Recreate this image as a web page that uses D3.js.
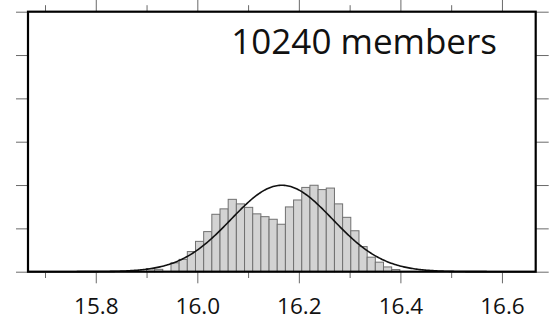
<!DOCTYPE html>
<html>
<head>
<meta charset="utf-8">
<script src="https://cdn.jsdelivr.net/npm/d3@7"></script>
<style>
html,body{margin:0;padding:0;background:#fff;}
svg{display:block;}
</style>
</head>
<body>
<svg id="chart" width="549" height="320"></svg>
<script>
// ---- data ----
const title = "10240 members";
const binStart = 15.8998;      // left edge of first bin
const binWidth = 0.0161;       // bin width
const densities = [0.14,0.11,0.0,0.41,0.57,0.93,1.40,1.85,2.65,2.90,3.34,3.13,2.97,2.67,2.54,2.42,2.19,
                   2.99,3.31,3.89,3.99,3.79,3.86,3.13,2.51,1.89,1.16,0.67,0.44,0.22,0.10];
const fitMean = 16.1665;
const fitSd = 0.1;
const xDomain = [15.6665, 16.6665];
const yDomain = [0, 12];
const xMajorTicks = [15.8, 16.0, 16.2, 16.4, 16.6];
const xMinorTicks = [15.7, 15.9, 16.1, 16.3, 16.5];
const yTicks = [0, 2, 4, 6, 8, 10, 12];

// ---- layout ----
const L = 28, R = 535.7, T = 11.7, B = 271.7;
const svg = d3.select("#chart");
const x = d3.scaleLinear().domain(xDomain).range([L, R]);
const y = d3.scaleLinear().domain(yDomain).range([B, T]);

const bins = densities.map((d, i) => ({x0: binStart + i * binWidth, x1: binStart + (i + 1) * binWidth, d}));

// bars
svg.append("g").selectAll("rect").data(bins.filter(b => b.d > 0)).join("rect")
  .attr("x", b => x(b.x0))
  .attr("y", b => y(b.d))
  .attr("width", b => x(b.x1) - x(b.x0))
  .attr("height", b => y(0) - y(b.d))
  .attr("fill", "#d3d3d3")
  .attr("stroke", "#707070")
  .attr("stroke-width", 1);

// normal curve
const pts = d3.range(0, 401).map(i => xDomain[0] + (xDomain[1] - xDomain[0]) * i / 400);
const pdf = v => Math.exp(-0.5 * ((v - fitMean) / fitSd) ** 2) / (fitSd * Math.sqrt(2 * Math.PI));
svg.append("path")
  .attr("d", d3.line().x(v => x(v)).y(v => y(pdf(v)))(pts))
  .attr("fill", "none")
  .attr("stroke", "#111")
  .attr("stroke-width", 1.6);

// axes (ticks outside frame)
const tickCol = "#6a6a6a";
function styleAxis(g) {
  g.select(".domain").remove();
  g.selectAll(".tick line").attr("stroke", tickCol);
}
const axB = d3.axisBottom(x).tickValues(xMajorTicks).tickSize(11.6).tickPadding(14.5)
  .tickFormat(d3.format(".1f"));
const gB = svg.append("g").attr("transform", `translate(0,${B})`).call(axB).call(styleAxis);
gB.selectAll(".tick text").attr("font-family", "'Open Sans', 'Noto Sans', sans-serif")
  .attr("font-size", 22.5).attr("fill", "#111").attr("dy", "0.71em");

const axBm = d3.axisBottom(x).tickValues(xMinorTicks).tickSize(6.3).tickFormat("");
svg.append("g").attr("transform", `translate(0,${B})`).call(axBm).call(styleAxis);

const axT = d3.axisTop(x).tickValues(xMajorTicks).tickSize(12).tickFormat("");
svg.append("g").attr("transform", `translate(0,${T})`).call(axT).call(styleAxis);
const axTm = d3.axisTop(x).tickValues(xMinorTicks).tickSize(6.5).tickFormat("");
svg.append("g").attr("transform", `translate(0,${T})`).call(axTm).call(styleAxis);

const axL = d3.axisLeft(y).tickValues(yTicks).tickSize(12).tickFormat("");
svg.append("g").attr("transform", `translate(${L},0)`).call(axL).call(styleAxis);
const axR = d3.axisRight(y).tickValues(yTicks).tickSize(13).tickFormat("");
svg.append("g").attr("transform", `translate(${R},0)`).call(axR).call(styleAxis);

// frame
svg.append("rect")
  .attr("x", L).attr("y", T)
  .attr("width", R - L).attr("height", B - T)
  .attr("fill", "none").attr("stroke", "#000").attr("stroke-width", 2.2);

// title
svg.append("text")
  .attr("x", 497).attr("y", 53.5)
  .attr("text-anchor", "end")
  .attr("font-family", "'Open Sans', 'Noto Sans', sans-serif")
  .attr("font-size", 35)
  .attr("fill", "#111")
  .text(title);
</script>
</body>
</html>
